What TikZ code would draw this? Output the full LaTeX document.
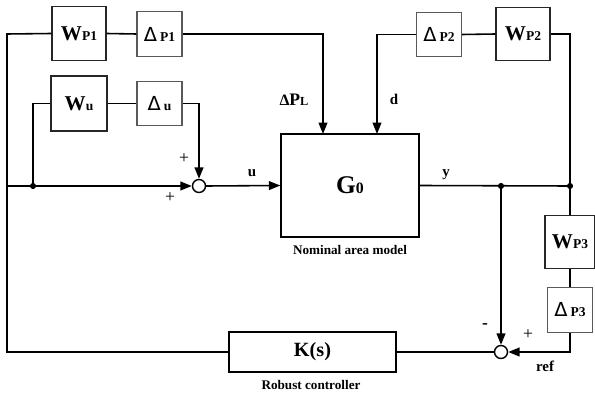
\documentclass[tikz,border=0pt]{standalone}
\usepackage{fontspec}
\setmainfont{Liberation Serif}
\newfontfamily\deltafont{DejaVu Sans}
\usetikzlibrary{arrows.meta}

\newcommand{\wname}[2]{{\fontsize{12}{12}\selectfont #1}{\fontsize{7.7}{8}\selectfont #2}}
\newcommand{\dname}[1]{{\deltafont\mdseries\fontsize{11}{11}\selectfont Δ}\,{\fontsize{7.7}{8}\selectfont #1}}

\begin{document}
\begin{tikzpicture}[x=0.02cm,y=-0.02cm,font=\bfseries,line width=0.9pt,
    >={Triangle[length=6.5pt,width=5pt]},
    blk/.style={draw=black!85,inner sep=0pt,line width=0.6pt},
    wbox/.style={blk,minimum width=1.08cm,minimum height=1.07cm},
    dbox/.style={blk,draw=black!65,minimum width=0.9cm,minimum height=0.89cm},
    sum/.style={draw,circle,fill=white,inner sep=0pt,minimum size=0.26cm,line width=0.8pt},
    dot/.style={fill,circle,inner sep=0pt,minimum size=3.5pt},
    sig/.style={font=\bfseries\fontsize{8.5}{9}\selectfont},
    sgn/.style={font=\mdseries\fontsize{10}{10}\selectfont}]
  \useasboundingbox (0,0) rectangle (595,395);

  % blocks
  \node[wbox] (wpone) at (79,33.5) {\wname{W}{P1}};
  \node[dbox] (dpone) at (159.5,34) {\dname{P1}};
  \node[wbox,minimum width=1.12cm,minimum height=1.1cm] (wu) at (79,103.5) {\wname{W}{u}};
  \node[dbox] (du) at (159.5,103.5) {\dname{u}};
  \node[dbox] (dptwo) at (439,34.5) {\dname{P2}};
  \node[wbox] (wptwo) at (523,34) {\wname{W}{P2}};
  \node[wbox,minimum width=1.0cm] (wpthree) at (570,242) {\wname{W}{P3}};
  \node[dbox] (dpthree) at (570,310) {\dname{P3}};
  \node[blk,draw=black,line width=0.8pt,minimum width=2.76cm,minimum height=2.06cm] (gzero) at (350,185.5)
    {{\fontsize{14.5}{15}\selectfont G}{\fontsize{9}{9}\selectfont 0}};
  \node[blk,draw=black,line width=0.8pt,minimum width=3.34cm,minimum height=0.8cm] (kctrl) at (312.5,352)
    {\fontsize{11.5}{12}\selectfont K(s)};
  \node[sum] (sumu) at (199,186) {};
  \node[sum] (sumr) at (501,352) {};

  % captions and signals
  \node[font=\bfseries\fontsize{7.5}{8}\selectfont] (capg) at (350,250) {Nominal area model};
  \node[font=\bfseries\fontsize{7.5}{8}\selectfont] (capk) at (311,385) {Robust controller};
  \node[sig] (lpl) at (294,100) {{\fontsize{9}{9}\selectfont Δ}{\fontsize{10}{10}\selectfont P}{\fontsize{7}{7}\selectfont L}};
  \node[sig] (ld) at (394,99) {d};
  \node[sig] (lu) at (252,173) {u};
  \node[sig] (ly) at (446,175) {y};
  \node[sig] (lref) at (545,366) {ref};
  \node[sgn] (pa) at (184,159) {+};
  \node[sgn] (pb) at (170,198) {+};
  \node[sgn,font=\bfseries\fontsize{10}{10}\selectfont] (pc) at (485,326) {-};
  \node[sgn] (pd) at (528,335) {+};

  % junctions
  \coordinate (ltop) at (7,34);
  \coordinate (lmid) at (7,186);
  \node[dot] (tap) at (33,186) {};
  \node[dot] (ytap) at (501,186) {};
  \node[dot] (yright) at (570,186) {};
  \coordinate (pin) at (323,134);
  \coordinate (din) at (377,134);

  % connections
  \draw (kctrl.west) -| (ltop) -- (wpone.west);
  \draw (wpone.east) -- (dpone.west);
  \draw[->] (dpone.east) -| (pin);
  \draw[->] (lmid) -- (sumu.west);
  \draw (tap.center) |- (wu.west);
  \draw (wu.east) -- (du.west);
  \draw[->] (du.east) -| (sumu.north);
  \draw[->] (sumu.east) -- (gzero.west);
  \draw[->] (dptwo.west) -| (din);
  \draw (dptwo.east) -- (wptwo.west);
  \draw (wptwo.east) -| (yright.center) -- (wpthree.north);
  \draw (gzero.east) -- (yright.center);
  \draw[->] (ytap.center) -- (sumr.north);
  \draw (wpthree.south) -- (dpthree.north);
  \draw[->] (dpthree.south) |- (sumr.east);
  \draw (sumr.west) -- (kctrl.east);
\end{tikzpicture}
\end{document}
